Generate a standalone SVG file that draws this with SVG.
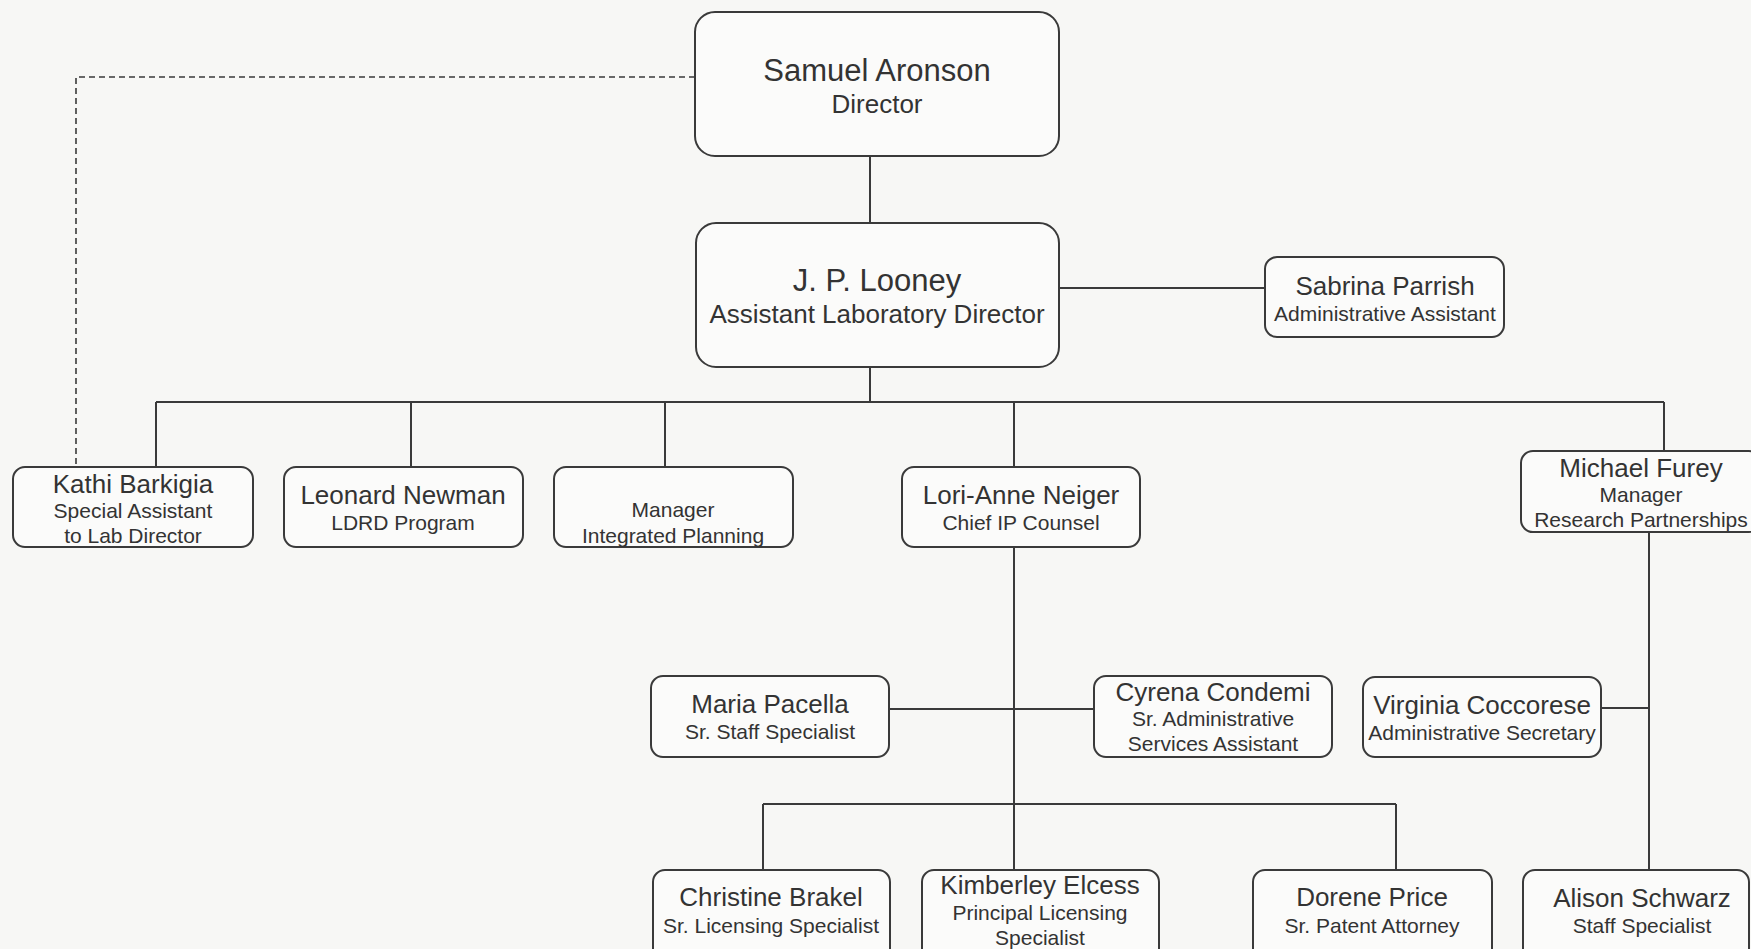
<svg xmlns="http://www.w3.org/2000/svg" width="1751" height="949" viewBox="0 0 1751 949">
<style>
.box{fill:#fbfbfa;stroke:#3a3a3a;stroke-width:2}
.n{font-family:"Liberation Sans",Arial,sans-serif;fill:#333;text-anchor:middle;font-size:26px}
.t{font-family:"Liberation Sans",Arial,sans-serif;fill:#333;text-anchor:middle;font-size:21px}
.bn{font-family:"Liberation Sans",Arial,sans-serif;fill:#333;text-anchor:middle;font-size:31px}
.bt{font-family:"Liberation Sans",Arial,sans-serif;fill:#333;text-anchor:middle;font-size:26px}
.c{fill:none;stroke:#3a3a3a;stroke-width:2}
.d{fill:none;stroke:#3a3a3a;stroke-width:1.6;stroke-dasharray:6 4}
</style>
<rect width="1751" height="949" fill="#f7f7f5"/>
<g id="connectors">
<path class="d" d="M695,77 H76 V467"/>
<path class="c" d="M870,157 V223"/>
<path class="c" d="M1059,288 H1265"/>
<path class="c" d="M870,367 V402"/>
<path class="c" d="M156,402 H1664"/>
<path class="c" d="M156,402 V467 M411,402 V467 M665,402 V467 M1014,402 V467 M1664,402 V451"/>
<path class="c" d="M1014,547 V870"/>
<path class="c" d="M889,709 H1094"/>
<path class="c" d="M763,804 H1396 M763,804 V870 M1396,804 V870"/>
<path class="c" d="M1649,532 V870"/>
<path class="c" d="M1601,708 H1649"/>
</g>
<g id="samuel-aronson"><rect class="box" x="695" y="12" width="364" height="144" rx="20"/><text class="bn" x="877" y="81">Samuel Aronson</text><text class="bt" x="877" y="113">Director</text></g>
<g id="jp-looney"><rect class="box" x="696" y="223" width="363" height="144" rx="20"/><text class="bn" x="877" y="291">J. P. Looney</text><text class="bt" x="877" y="323">Assistant Laboratory Director</text></g>
<g id="sabrina-parrish"><rect class="box" x="1265" y="257" width="239" height="80" rx="12"/><text class="n" x="1385" y="295">Sabrina Parrish</text><text class="t" x="1385" y="321">Administrative Assistant</text></g>
<g id="kathi-barkigia"><rect class="box" x="13" y="467" width="240" height="80" rx="12"/><text class="n" x="133" y="493">Kathi Barkigia</text><text class="t" x="133" y="518">Special Assistant</text><text class="t" x="133" y="543">to Lab Director</text></g>
<g id="leonard-newman"><rect class="box" x="284" y="467" width="239" height="80" rx="12"/><text class="n" x="403" y="504">Leonard Newman</text><text class="t" x="403" y="530">LDRD Program</text></g>
<g id="manager-ip"><rect class="box" x="554" y="467" width="239" height="80" rx="12"/><text class="t" x="673" y="517">Manager</text><text class="t" x="673" y="543">Integrated Planning</text></g>
<g id="lori-anne-neiger"><rect class="box" x="902" y="467" width="238" height="80" rx="12"/><text class="n" x="1021" y="504">Lori-Anne Neiger</text><text class="t" x="1021" y="530">Chief IP Counsel</text></g>
<g id="michael-furey"><rect class="box" x="1521" y="451" width="240" height="81" rx="12"/><text class="n" x="1641" y="477">Michael Furey</text><text class="t" x="1641" y="502">Manager</text><text class="t" x="1641" y="527">Research Partnerships</text></g>
<g id="maria-pacella"><rect class="box" x="651" y="676" width="238" height="81" rx="12"/><text class="n" x="770" y="713">Maria Pacella</text><text class="t" x="770" y="739">Sr. Staff Specialist</text></g>
<g id="cyrena-condemi"><rect class="box" x="1094" y="676" width="238" height="81" rx="12"/><text class="n" x="1213" y="701">Cyrena Condemi</text><text class="t" x="1213" y="726">Sr. Administrative</text><text class="t" x="1213" y="751">Services Assistant</text></g>
<g id="virginia-coccorese"><rect class="box" x="1363" y="677" width="238" height="80" rx="12"/><text class="n" x="1482" y="714">Virginia Coccorese</text><text class="t" x="1482" y="740">Administrative Secretary</text></g>
<g id="christine-brakel"><rect class="box" x="653" y="870" width="237" height="95" rx="12"/><text class="n" x="771" y="906">Christine Brakel</text><text class="t" x="771" y="933">Sr. Licensing Specialist</text></g>
<g id="kimberley-elcess"><rect class="box" x="922" y="870" width="237" height="95" rx="12"/><text class="n" x="1040" y="894">Kimberley Elcess</text><text class="t" x="1040" y="920">Principal Licensing</text><text class="t" x="1040" y="945">Specialist</text></g>
<g id="dorene-price"><rect class="box" x="1253" y="870" width="239" height="95" rx="12"/><text class="n" x="1372" y="906">Dorene Price</text><text class="t" x="1372" y="933">Sr. Patent Attorney</text></g>
<g id="alison-schwarz"><rect class="box" x="1523" y="870" width="226" height="95" rx="12"/><text class="n" x="1642" y="907">Alison Schwarz</text><text class="t" x="1642" y="933">Staff Specialist</text></g>
</svg>
